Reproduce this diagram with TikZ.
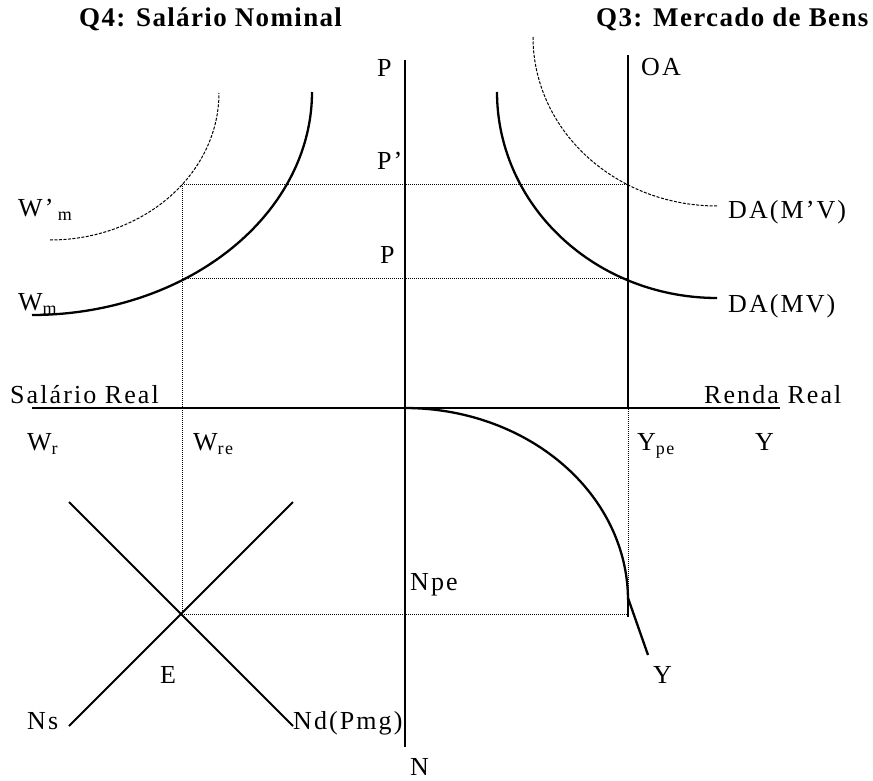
\documentclass[tikz,border=0pt]{standalone}
\usepackage{fontspec}
\setmainfont{Liberation Serif}[LetterSpace=8]
\newfontfamily\titlefont{Liberation Serif}[LetterSpace=5]
\newcommand{\sbs}[1]{\raisebox{-4pt}{\fontsize{18}{18}\selectfont #1}}
\tikzset{
  lab/.style={anchor=base west, inner sep=0pt, font=\fontsize{26}{30}\selectfont},
  ttl/.style={anchor=base west, inner sep=0pt, font=\fontsize{27}{30}\titlefont\bfseries},
  axis/.style={line width=2.6pt},
  curve/.style={line width=2.3pt},
  schedule/.style={line width=2pt},
  guide/.style={line width=0.8pt, dash pattern=on 1pt off 1pt},
  shifted/.style={line width=1pt, dash pattern=on 3pt off 1.5pt}
}
\begin{document}
\begin{tikzpicture}[x=1pt,y=-1pt]
\useasboundingbox (0,0) rectangle (873,781);
% coordinates
\coordinate (Ptop) at (405,60);
\coordinate (Nbot) at (405,747);
\coordinate (Wl) at (32,408);
\coordinate (Yr) at (780,408);
\coordinate (OAtop) at (628,55);
\coordinate (OAbot) at (628,408);
\coordinate (A) at (182,184);
\coordinate (B) at (628,184);
\coordinate (C) at (182,278);
\coordinate (D) at (628,278);
\coordinate (Eq) at (182,614);
\coordinate (F) at (628,614);
\coordinate (Ns1) at (69,726);
\coordinate (Ns2) at (293,502);
\coordinate (Nd1) at (69,502);
\coordinate (Nd2) at (293,726);
\coordinate (Yk1) at (628,595);
\coordinate (Yk2) at (628,617);
\coordinate (Yl1) at (628,598);
\coordinate (Yl2) at (648,655);
% guides
\draw[guide] (A) -- (B);
\draw[guide] (C) -- (D);
\draw[guide] (A) -- (Eq) -- (F) -- (OAbot);
% axes
\draw[axis] (Ptop) -- (Nbot);
\draw[axis] (Wl) -- (Yr);
\draw[axis] (OAtop) -- (OAbot);
% curves
\draw[curve] plot[domain=0:90, samples=60, smooth] ({32+280*sin(\x)},{92+223*cos(\x)});
\draw[shifted] plot[domain=0:90, samples=60, smooth] ({50+169*sin(\x)},{93+147*cos(\x)});
\draw[curve] plot[domain=0:90, samples=60, smooth] ({717-220*cos(\x)},{92+206*sin(\x)});
\draw[shifted] plot[domain=0:90, samples=60, smooth] ({717-184*cos(\x)},{37+169*sin(\x)});
\draw[curve] plot[domain=0:90, samples=60, smooth] ({405+223*sin(\x)},{600-192*cos(\x)});
\draw[curve] (Yk1) -- (Yk2);
\draw[curve] (Yl1) -- (Yl2);
% labour market
\draw[schedule] (Ns1) -- (Ns2);
\draw[schedule] (Nd1) -- (Nd2);
% titles
\node[ttl] (t4) at (79,27) {Q4: Salário Nominal};
\node[ttl] (t3) at (596,27) {Q3: Mercado de Bens};
% labels
\node[lab] (lP) at (377,77) {P};
\node[lab] (lOA) at (641,76) {OA};
\node[lab] (lPp) at (377,169) {P’};
\node[lab] (lP2) at (380,263) {P};
\node[lab] (lWpm) at (18,216) {W’\,\sbs{m}};
\node[lab] (lWm) at (18,310) {W\sbs{m}};
\node[lab] (lDA2) at (728,218) {DA(M’V)};
\node[lab] (lDA1) at (728,312) {DA(MV)};
\node[lab] (lSR) at (10,403) {Salário Real};
\node[lab] (lRR) at (704,403) {Renda Real};
\node[lab] (lWr) at (27,450) {W\sbs{r}};
\node[lab] (lWre) at (193,450) {W\sbs{re}};
\node[lab] (lYpe) at (637,450) {Y\sbs{pe}};
\node[lab] (lY) at (755,450) {Y};
\node[lab] (lNpe) at (410,590) {Npe};
\node[lab] (lE) at (160,683) {E};
\node[lab] (lNs) at (27,729) {Ns};
\node[lab] (lNd) at (293,729) {Nd(Pmg)};
\node[lab] (lN) at (410,775) {N};
\node[lab] (lY2) at (653,683) {Y};
\end{tikzpicture}
\end{document}
